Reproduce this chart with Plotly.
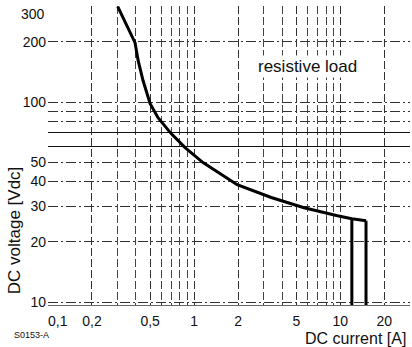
import math
import plotly.graph_objects as go

# ---- data ----
current_curve = [0.30, 0.394, 0.414, 0.447, 0.50, 0.566, 0.696, 0.867, 1.15, 1.53, 1.97, 3.37, 5.65, 9.57, 12.0, 15.0]
voltage_curve = [300, 198, 161, 128, 98, 83.5, 69.5, 59.2, 49.8, 43.4, 38.6, 33.3, 29.6, 27.0, 26.1, 25.5]

# vertical limits (current, voltage at which the drop starts)
limit_currents = [12.0, 15.0]
limit_voltages = [26.1, 25.5]

x_tick_vals = [0.1, 0.2, 0.5, 1, 2, 5, 10, 20]
x_tick_text = ["\u00a0\u00a0\u00a0\u00a0\u00a00,1", "0,2", "0,5", "1", "2", "5", "10", "20"]
x_minor_vals = [0.3, 0.4, 0.6, 0.7, 0.8, 0.9, 3, 4, 6, 7, 8, 9, 30]

y_tick_vals = [10, 20, 30, 40, 50, 80, 90, 100, 200, 300]
y_tick_text = ["10", "20", "30", "40", "50", "", "", "100", "200", ""]
y_top_label = "300"
y_minor_vals = [60, 70]

x_min, x_max = 0.1, 30
y_max = 302
y_span_decades = 1.495
y_min = 10 ** (math.log10(y_max) - y_span_decades)

FONT = "Liberation Sans, Arial, sans-serif"

fig = go.Figure()

fig.add_trace(go.Scatter(
    x=current_curve, y=voltage_curve, mode="lines",
    line=dict(color="black", width=3), showlegend=False, hoverinfo="skip"))

for c, v in zip(limit_currents, limit_voltages):
    fig.add_trace(go.Scatter(
        x=[c, c], y=[v, y_min], mode="lines",
        line=dict(color="black", width=3), showlegend=False, hoverinfo="skip"))

fig.update_xaxes(
    type="log", range=[math.log10(x_min), math.log10(x_max)],
    tickmode="array", tickvals=x_tick_vals, ticktext=x_tick_text,
    tickfont=dict(family=FONT, size=14, color="#111"),
    ticks="", ticklabelstandoff=3, automargin=False, ticklabeloverflow="allow",
    showgrid=True, gridcolor="#333", gridwidth=1, griddash="8px,3px",
    minor=dict(tickvals=x_minor_vals, showgrid=True, gridcolor="#444",
               gridwidth=1, griddash="8px,3px", ticks=""),
    showline=True, linecolor="#666", linewidth=1,
    zeroline=False,
)
fig.update_yaxes(
    type="log", range=[math.log10(y_min), math.log10(y_max)],
    tickmode="array", tickvals=y_tick_vals, ticktext=y_tick_text,
    tickfont=dict(family=FONT, size=14, color="#111"),
    ticks="", ticklabelstandoff=1, automargin=False, ticklabeloverflow="allow",
    showgrid=True, gridcolor="#333", gridwidth=1, griddash="10px,3px,2px,3px",
    minor=dict(tickvals=y_minor_vals, showgrid=True, gridcolor="#111",
               gridwidth=1, griddash="solid", ticks=""),
    showline=False, zeroline=False,
)

# top tick label, nudged down so it stays inside the page
fig.add_annotation(text=y_top_label, xref="paper", yref="y",
                   x=0, y=math.log10(y_tick_vals[-1]), yshift=-7, xshift=-1,
                   xanchor="right", yanchor="middle", showarrow=False,
                   font=dict(family=FONT, size=14, color="#111"))

fig.add_annotation(text="resistive load", xref="x", yref="y",
                   x=math.log10(6.0), y=math.log10(150), showarrow=False,
                   font=dict(family=FONT, size=17, color="#111"), bgcolor="white")
fig.add_annotation(text="DC voltage [Vdc]", xref="paper", yref="paper",
                   x=-0.094, y=0.25, textangle=-90, showarrow=False,
                   xanchor="center", yanchor="middle",
                   font=dict(family=FONT, size=17, color="#111"))
fig.add_annotation(text="DC current [A]", xref="paper", yref="paper",
                   x=0.994, y=-0.112, showarrow=False,
                   xanchor="right", yanchor="middle",
                   font=dict(family=FONT, size=16, color="#111"))
fig.add_annotation(text="S0153-A", xref="paper", yref="paper",
                   x=-0.1, y=-0.10, showarrow=False,
                   xanchor="left", yanchor="middle",
                   font=dict(family=FONT, size=9, color="#111"))

fig.update_layout(
    width=412, height=347,
    margin=dict(l=48, r=2, t=6, b=42, autoexpand=False),
    paper_bgcolor="white", plot_bgcolor="white",
    showlegend=False,
)

fig.write_html("out.html", config={"displayModeBar": False},
               post_script="document.body.style.margin='0';document.body.style.padding='0';")
